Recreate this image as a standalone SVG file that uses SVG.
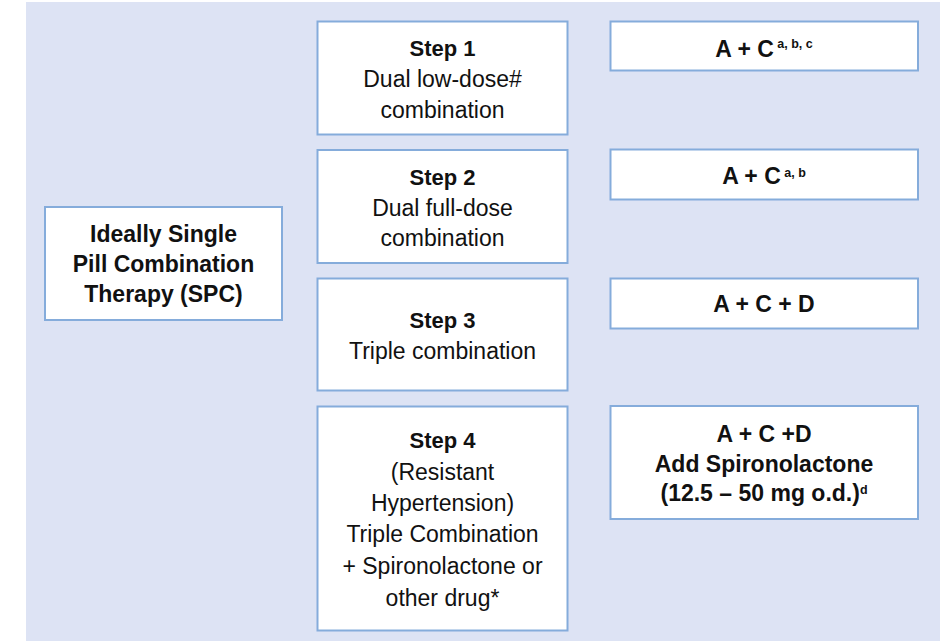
<svg xmlns="http://www.w3.org/2000/svg" width="940" height="641" viewBox="0 0 940 641">
<style>
.box{fill:#ffffff;stroke:#85acdb;stroke-width:2}
text{font-family:"Liberation Sans",Arial,Helvetica,sans-serif;fill:#111111;text-anchor:middle}
.b{font-weight:bold;font-size:23px}
.h{font-weight:bold;font-size:22px}
.r{font-size:23px}
.sup{font-size:12.5px;font-weight:bold}
</style>
<rect x="26" y="2" width="914" height="639" fill="#dde3f4"/>
<g id="connectors"/>
<g id="spc">
<rect class="box" x="45" y="207" width="237" height="113"/>
<text class="b" x="163.5" y="241.5">Ideally Single</text>
<text class="b" x="163.5" y="271.5">Pill Combination</text>
<text class="b" x="163.5" y="301.5">Therapy (SPC)</text>
</g>
<g id="step1">
<rect class="box" x="317.5" y="21.5" width="250" height="113"/>
<text class="h" x="442.5" y="55.5">Step 1</text>
<text class="r" x="442.5" y="87">Dual low-dose#</text>
<text class="r" x="442.5" y="117.5">combination</text>
</g>
<g id="step2">
<rect class="box" x="317.5" y="150" width="250" height="113"/>
<text class="h" x="442.5" y="184.5">Step 2</text>
<text class="r" x="442.5" y="215.5">Dual full-dose</text>
<text class="r" x="442.5" y="246">combination</text>
</g>
<g id="step3">
<rect class="box" x="317.5" y="278.5" width="250" height="112"/>
<text class="h" x="442.5" y="327.5">Step 3</text>
<text class="r" x="442.5" y="359">Triple combination</text>
</g>
<g id="step4">
<rect class="box" x="317.5" y="406.5" width="250" height="224"/>
<text class="h" x="442.5" y="448">Step 4</text>
<text class="r" x="442.5" y="479.5">(Resistant</text>
<text class="r" x="442.5" y="510.5">Hypertension)</text>
<text class="r" x="442.5" y="542">Triple Combination</text>
<text class="r" x="442.5" y="574">+ Spironolactone or</text>
<text class="r" x="442.5" y="605.5">other drug*</text>
</g>
<g id="rx1">
<rect class="box" x="610.5" y="21.5" width="307.5" height="49"/>
<text class="b" x="764" y="56.5">A + C<tspan class="sup" dy="-9"> a, b, c</tspan></text>
</g>
<g id="rx2">
<rect class="box" x="610.5" y="149.5" width="307.5" height="50"/>
<text class="b" x="764" y="183.5">A + C<tspan class="sup" dy="-7"> a, b</tspan></text>
</g>
<g id="rx3">
<rect class="box" x="610.5" y="278.5" width="307.5" height="50"/>
<text class="b" x="764" y="311.5">A + C + D</text>
</g>
<g id="rx4">
<rect class="box" x="610.5" y="406" width="307.5" height="113"/>
<text class="b" x="764" y="441.5">A + C +D</text>
<text class="b" x="764" y="471.5">Add Spironolactone</text>
<text class="b" x="764" y="501">(12.5 – 50 mg o.d.)<tspan class="sup" font-size="11" dy="-7">d</tspan></text>
</g>
</svg>
